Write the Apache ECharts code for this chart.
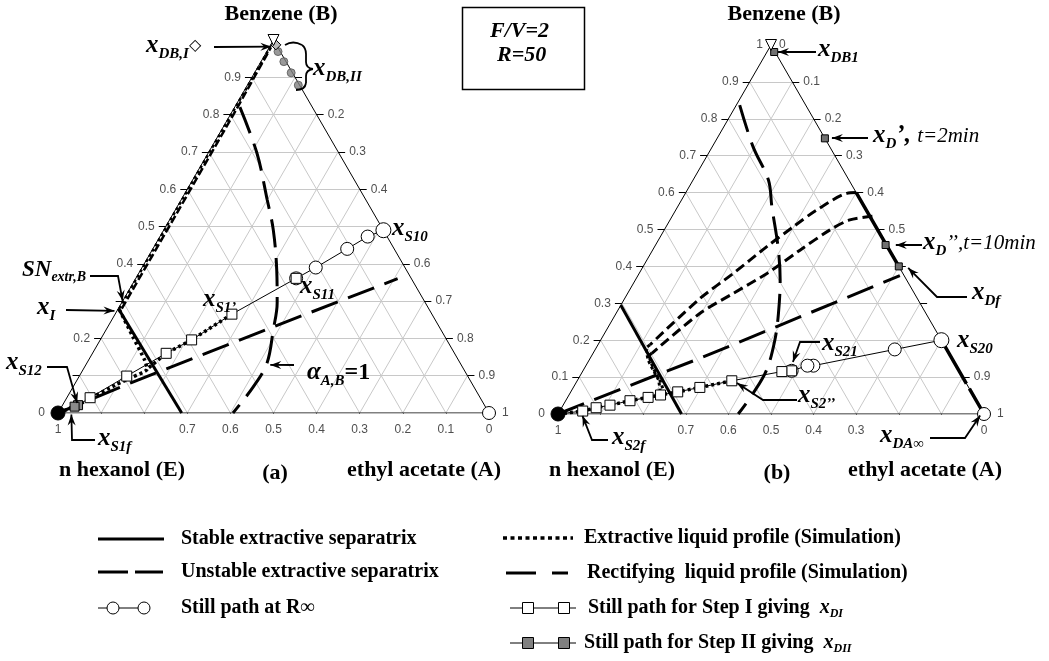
<!DOCTYPE html>
<html>
<head>
<meta charset="utf-8">
<script src="https://cdn.jsdelivr.net/npm/echarts@6/dist/echarts.min.js"></script>
<style>
  html, body { margin: 0; padding: 0; background: #fff; }
  #chart { width: 1049px; height: 661px; }
</style>
</head>
<body>
<div id="chart"></div>
<script>
// Ternary diagrams: compositions are [xA, xB] (ethyl acetate, benzene); xE = 1 - xA - xB.
const SERIF = "'Liberation Serif', 'Times New Roman', serif";
const SANS = "'Liberation Sans', Arial, sans-serif";
const S3 = Math.sqrt(3) / 2;
const T = p => [p[0] + p[1] / 2, p[1] * S3];

// ---- tick labels -------------------------------------------------------
const leftLabelsA  = ['0', '0.2', '0.4', '0.5', '0.6', '0.7', '0.8', '0.9'];
const rightLabelsA = ['0.2', '0.3', '0.4', '0.6', '0.7', '0.8', '0.9', '1'];
const baseLabelsA  = ['1', '0.7', '0.6', '0.5', '0.4', '0.3', '0.2', '0.1', '0'];
const leftLabelsB  = ['0', '0.1', '0.2', '0.3', '0.4', '0.5', '0.6', '0.7', '0.8', '0.9', '1'];
const rightLabelsB = ['0', '0.1', '0.2', '0.3', '0.4', '0.5', '0.9', '1'];
const baseLabelsB  = ['1', '0.7', '0.6', '0.5', '0.4', '0.3', '0'];

// ---- panel (a) ---------------------------------------------------------
const stableSepA   = [[0, 0.28], [0.287, 0]];
const unstableSepA = [[0, 0], [0.132, 0.083], [0.384, 0.231], [0.608, 0.36]];
const alphaAB_A    = [[0.012, 0.82], [0.113, 0.697], [0.2, 0.571], [0.254, 0.491], [0.316, 0.383],
                      [0.361, 0.295], [0.388, 0.223], [0.418, 0.134], [0.418, 0.07], [0.406, 0]];
const stillRinfA   = [[0.51, 0.49], [0.482, 0.473], [0.451, 0.44], [0.403, 0.39], [0.372, 0.361]];
const stepIA       = [[0.372, 0.361], [0.271, 0.265], [0.212, 0.196], [0.171, 0.16], [0.11, 0.099], [0.054, 0.041]];
const stepIIA      = [[0.036, 0.021], [0.03, 0.017]];
const extrA1       = [[0.271, 0.265], [0.212, 0.196], [0.171, 0.16], [0.148, 0.118]];
const extrA2       = [[0.004, 0.277], [0.07, 0.206], [0.13, 0.142], [0.148, 0.118], [0.126, 0.097],
                      [0.098, 0.077], [0.055, 0.039], [0.02, 0.012], [0, 0]];
const rectEdgeA    = [[0.008, 0.28], [0.008, 0.5], [0.007, 0.8], [0.004, 0.98]];
const extrEdgeA    = [[0.002, 0.28], [0.002, 0.98]];
const distIIA      = [[0.026, 0.969], [0.053, 0.942], [0.085, 0.912], [0.118, 0.879]];
const distIA       = [[0.012, 0.987]];

// ---- panel (b) ---------------------------------------------------------
const stableSepB   = [[0, 0.295], [0.29, 0]];
const unstableSepB = [[0, 0], [0.052, 0.031], [0.179, 0.106], [0.258, 0.151], [0.395, 0.237], [0.615, 0.375]];
const alphaAB_B    = [[0.008, 0.837], [0.096, 0.724], [0.177, 0.634], [0.221, 0.562], [0.29, 0.453], [0.34, 0.363],
                      [0.381, 0.273], [0.409, 0.2], [0.43, 0.119], [0.43, 0.056], [0.423, 0]];
const rect1B       = [[0.4, 0.6], [0.379, 0.598], [0.331, 0.553], [0.299, 0.508], [0.263, 0.453],
                      [0.221, 0.381], [0.177, 0.3135], [0.122, 0.187]];
const rect2B       = [[0.47, 0.536], [0.422, 0.526], [0.389, 0.499], [0.346, 0.444], [0.3, 0.381],
                      [0.248, 0.327], [0.197, 0.273], [0.138, 0.1645]];
const extr1B       = [[0.122, 0.187], [0.118, 0.178], [0.139, 0.146], [0.164, 0.119], [0.19, 0.092], [0.215, 0.0515]];
const extr2B       = [[0.138, 0.1645], [0.135, 0.158], [0.15, 0.138], [0.172, 0.113], [0.198, 0.086], [0.22, 0.058]];
const stillRinfB   = [[0.8, 0.2], [0.703, 0.175], [0.534, 0.131], [0.52, 0.131], [0.49, 0.117]];
const stepIB       = [[0.49, 0.117], [0.468, 0.115], [0.363, 0.09], [0.297, 0.072], [0.251, 0.06], [0.215, 0.0515],
                      [0.189, 0.045], [0.151, 0.036], [0.11, 0.024], [0.081, 0.017], [0.054, 0.008]];
const distB        = [[0.017, 0.981], [0.253, 0.747], [0.54, 0.458], [0.6, 0.4]];
const edgeSolidB   = [[0.4, 0.6], [0.54, 0.46], [0.6, 0.4]];
const edgeDashB    = [[0.8, 0.2], [1, 0]];

// ---- layout ------------------------------------------------------------
const panels = [
  { left: 58, top: 40, width: 431, height: 373 },
  { left: 558, top: 45, width: 426, height: 369 }
];

const LONG = [28, 11], SHORT = [10, 5], DOT = [3, 3];

function curve(k, pts, width, type, extra) {
  return Object.assign({
    type: 'line', xAxisIndex: k, yAxisIndex: k, data: pts.map(T), symbol: 'none',
    silent: true, lineStyle: { color: '#000', width: width, type: type || 'solid' }, z: 4
  }, extra || {});
}
function marks(k, pts, symbol, size, fill, extra) {
  return Object.assign({
    type: 'scatter', xAxisIndex: k, yAxisIndex: k, data: pts.map(T), symbol: symbol,
    symbolSize: size, silent: true,
    itemStyle: { color: fill, borderColor: '#000', borderWidth: 1, opacity: 1 }, z: 6
  }, extra || {});
}
function gridLines(k) {
  const segs = [];
  for (let i = 1; i <= 9; i++) {
    const v = i / 10;
    segs.push({ coords: [T([0, v]), T([1 - v, v])] });
    segs.push({ coords: [T([v, 0]), T([v, 1 - v])] });
    segs.push({ coords: [T([1 - v, 0]), T([0, 1 - v])] });
  }
  return { type: 'lines', coordinateSystem: 'cartesian2d', xAxisIndex: k, yAxisIndex: k, data: segs,
           silent: true, lineStyle: { color: '#c8c8c8', width: 1, opacity: 1 }, z: 1 };
}
function ticks(k) {
  const p = panels[k], dx = 7 / p.width, dy = 7 / p.height * S3, segs = [];
  for (let i = 1; i <= 9; i++) {
    const v = i / 10;
    const l = T([0, v]), r = T([1 - v, v]), b = T([v, 0]);
    segs.push({ coords: [l, [l[0] - dx, l[1]]] });
    segs.push({ coords: [r, [r[0] + dx, r[1]]] });
    segs.push({ coords: [b, [b[0], b[1] - dy]] });
  }
  return { type: 'lines', coordinateSystem: 'cartesian2d', xAxisIndex: k, yAxisIndex: k, data: segs,
           silent: true, lineStyle: { color: '#000', width: 1, opacity: 1 }, z: 2 };
}
function tickLabels(k, labels, side) {
  const data = labels.map(s => {
    const v = parseFloat(s);
    let pos, dist = 11;
    if (side === 'left') { pos = T([0, v]); if (v === 0) dist = 13; if (v === 1) dist = 8; }
    else if (side === 'right') { pos = T([v, 1 - v]); if (v === 1) dist = 13; if (v === 0) dist = 8; }
    else { pos = T([1 - v, 0]); }
    return { name: s, value: pos, label: { distance: dist } };
  });
  return {
    type: 'scatter', xAxisIndex: k, yAxisIndex: k, data: data, symbolSize: 0.1, silent: true,
    itemStyle: { color: 'rgba(0,0,0,0)' }, z: 5,
    label: { show: true, position: side, formatter: '{b}', color: '#222', fontFamily: SANS, fontSize: 12 }
  };
}
function frame(k) {
  return curve(k, [[0, 0], [1, 0], [0, 1], [0, 0]], 1, 'solid', { z: 3 });
}

const series = [];
[0, 1].forEach(k => {
  series.push(gridLines(k), ticks(k), frame(k));
  series.push(tickLabels(k, k ? leftLabelsB : leftLabelsA, 'left'));
  series.push(tickLabels(k, k ? rightLabelsB : rightLabelsA, 'right'));
  series.push(tickLabels(k, k ? baseLabelsB : baseLabelsA, 'bottom'));
});

// panel (a)
series.push(
  curve(0, stableSepA, 3),
  curve(0, unstableSepA, 3, LONG),
  curve(0, alphaAB_A, 3, LONG, { smooth: 0.35 }),
  curve(0, rectEdgeA, 2.5, [8, 3]),
  curve(0, extrEdgeA, 2.5, DOT),
  curve(0, extrA1, 3.5, DOT),
  curve(0, extrA2, 3.5, DOT, { smooth: 0.2 }),
  curve(0, stillRinfA.concat(stepIA, stepIIA, [[0, 0]]), 1, 'solid', { z: 5 }),
  marks(0, stillRinfA.slice(1), 'circle', 13, '#fff'),
  marks(0, stillRinfA.slice(0, 1), 'circle', 15, '#fff'),
  marks(0, stepIA, 'rect', 10, '#fff', { z: 7 }),
  marks(0, stepIIA, 'rect', 9, '#8a8a8a', { z: 7 }),
  marks(0, distIIA, 'circle', 8, '#808080', { itemStyle: { color: '#808080', borderColor: '#555', borderWidth: 1 } }),
  marks(0, distIA, 'diamond', 10, '#bbb', { z: 7 }),
  marks(0, [[0, 1]], 'triangle', 11, '#fff', { symbolRotate: 180, z: 8 }),
  marks(0, [[0, 0]], 'circle', 14, '#000', { z: 8 }),
  marks(0, [[1, 0]], 'circle', 13, '#fff', { z: 8 })
);

// panel (b)
series.push(
  curve(1, stableSepB, 3),
  curve(1, unstableSepB, 3, LONG),
  curve(1, alphaAB_B, 3, LONG, { smooth: 0.35 }),
  curve(1, rect1B, 3, SHORT, { smooth: 0.3 }),
  curve(1, rect2B, 3, SHORT, { smooth: 0.3 }),
  curve(1, extr1B, 3, DOT, { smooth: 0.2 }),
  curve(1, extr2B, 3, DOT, { smooth: 0.2 }),
  curve(1, [[0, 0]].concat(stepIB.slice(2).reverse()), 3.5, DOT),
  curve(1, edgeSolidB, 3.5),
  curve(1, edgeDashB, 3.5, [50, 6]),
  curve(1, stillRinfB.concat(stepIB, [[0, 0]]), 1, 'solid', { z: 5 }),
  marks(1, stillRinfB.slice(1), 'circle', 13, '#fff'),
  marks(1, stillRinfB.slice(0, 1), 'circle', 15, '#fff'),
  marks(1, stepIB, 'rect', 10, '#fff', { z: 7 }),
  marks(1, distB, 'rect', 7, '#707070', { z: 7 }),
  marks(1, [[0, 1]], 'triangle', 11, '#fff', { symbolRotate: 180, z: 8 }),
  marks(1, [[0, 0]], 'circle', 14, '#000', { z: 8 }),
  marks(1, [[1, 0]], 'circle', 13, '#fff', { z: 8 })
);

const chart = echarts.init(document.getElementById('chart'), null, { renderer: 'canvas' });
chart.setOption({
  animation: false,
  backgroundColor: '#fff',
  grid: panels.map(p => Object.assign({ outerBoundsMode: 'none', containLabel: false }, p)),
  xAxis: [0, 1].map(k => ({ type: 'value', gridIndex: k, min: 0, max: 1, show: false })),
  yAxis: [0, 1].map(k => ({ type: 'value', gridIndex: k, min: 0, max: S3, show: false })),
  series: series
});

// ---- annotations -------------------------------------------------------
const px = (k, p) => chart.convertToPixel({ gridIndex: k }, T(p));
const ctx = document.createElement('canvas').getContext('2d');
const STY = {
  x:   { fontStyle: 'italic', fontWeight: 'bold', fontSize: 25, dy: 0 },
  sub: { fontStyle: 'italic', fontWeight: 'bold', fontSize: 15, dy: 8 },
  sn:  { fontStyle: 'italic', fontWeight: 'bold', fontSize: 23, dy: 0 },
  snb: { fontStyle: 'italic', fontWeight: 'bold', fontSize: 14, dy: 7 },
  box: { fontStyle: 'italic', fontWeight: 'bold', fontSize: 22, dy: 0 },
  it:  { fontStyle: 'italic', fontWeight: 'normal', fontSize: 21, dy: 0 },
  bd:  { fontStyle: 'normal', fontWeight: 'bold', fontSize: 24, dy: 0 },
  sym: { fontStyle: 'normal', fontWeight: 'normal', fontSize: 16, dy: 0 },
  lg:  { fontStyle: 'normal', fontWeight: 'bold', fontSize: 20, dy: 0 },
  lgx: { fontStyle: 'italic', fontWeight: 'bold', fontSize: 20, dy: 0 },
  lgs: { fontStyle: 'italic', fontWeight: 'bold', fontSize: 12, dy: 6 }
};
function textRun(x, y, parts) {
  const els = [];
  let cx = x;
  parts.forEach(([t, key]) => {
    const s = STY[key];
    const fam = key === 'sym' ? "'DejaVu Sans', sans-serif" : SERIF;
    ctx.font = `${s.fontStyle} ${s.fontWeight} ${s.fontSize}px ${fam}`;
    els.push({ type: 'text', x: cx, y: y + s.dy, z: 100,
      style: { text: t, fill: '#000', fontFamily: fam, fontSize: s.fontSize, fontWeight: s.fontWeight,
               fontStyle: s.fontStyle, align: 'left', verticalAlign: 'middle' } });
    cx += ctx.measureText(t).width;
  });
  return els;
}
function centered(x, y, text, size) {
  return { type: 'text', x: x, y: y, z: 100,
    style: { text: text, fill: '#000', fontFamily: SERIF, fontSize: size, fontWeight: 'bold',
             align: 'center', verticalAlign: 'middle' } };
}
function arrow(pts) {
  const els = [{ type: 'polyline', z: 90, shape: { points: pts }, style: { stroke: '#000', lineWidth: 1.8, fill: null } }];
  const [x1, y1] = pts[pts.length - 2], [x2, y2] = pts[pts.length - 1];
  const a = Math.atan2(y2 - y1, x2 - x1), c = Math.cos(a), s = Math.sin(a);
  const L = 11, W = 4;
  els.push({ type: 'polygon', z: 91, shape: { points: [
    [x2, y2], [x2 - L * c - W * s, y2 - L * s + W * c], [x2 - 0.65 * L * c, y2 - 0.65 * L * s],
    [x2 - L * c + W * s, y2 - L * s - W * c]] }, style: { fill: '#000' } });
  return els;
}
function withTip(k, tip, tail) { return arrow(tail.concat([px(k, tip)])); }
function quad(x1, y1, cx, cy, x2, y2) {
  return { type: 'bezierCurve', z: 90, shape: { x1, y1, x2, y2, cpx1: cx, cpy1: cy },
           style: { stroke: '#000', lineWidth: 1.8, fill: null } };
}
function seg(x1, y1, x2, y2, w, dash) {
  return { type: 'line', z: 90, shape: { x1, y1, x2, y2 }, style: { stroke: '#000', lineWidth: w, lineDash: dash || null } };
}

const g = [];
// titles
g.push(centered(281, 14, 'Benzene (B)', 22), centered(784, 14, 'Benzene (B)', 22));
g.push(centered(122, 470, 'n hexanol (E)', 22), centered(275, 473, '(a)', 22), centered(424, 470, 'ethyl acetate (A)', 22));
g.push(centered(612, 470, 'n hexanol (E)', 22), centered(777, 473, '(b)', 22), centered(925, 470, 'ethyl acetate (A)', 22));
// parameter box
g.push({ type: 'rect', z: 80, shape: { x: 462.5, y: 7.5, width: 122, height: 82 },
         style: { fill: '#fff', stroke: '#000', lineWidth: 1.5 } });
g.push(...textRun(490, 31, [['F/V=2', 'box']]), ...textRun(497, 55, [['R=50', 'box']]));

// panel (a) annotations
g.push(...textRun(146, 46, [['x', 'x'], ['DB,I', 'sub'], ['\u25C7', 'sym']]));
g.push(...withTip(0, [0.004, 0.982], [[214, 47]]));
// curly brace grouping the step II distillates
g.push(quad(285, 45, 293, 40, 302, 45), quad(302, 45, 306, 48, 306, 54), seg(306, 54, 306, 62, 1.8),
       quad(306, 62, 306, 68, 313, 69), quad(313, 69, 306, 70, 306, 76), seg(306, 76, 306, 83, 1.8),
       quad(306, 83, 305, 90, 296, 90));
g.push(...textRun(313, 69, [['x', 'x'], ['DB,II', 'sub']]));
g.push(...textRun(392, 229, [['x', 'x'], ['S10', 'sub']]));
g.push(...textRun(300, 287, [['x', 'x'], ['S11', 'sub']]));
g.push(...textRun(203, 300, [['x', 'x'], ['S1\u2019', 'sub']]));
g.push(...textRun(22, 270, [['SN', 'sn'], ['extr,B', 'snb']]));
g.push(...withTip(0, [0.0, 0.30], [[90, 276], [118, 276]]));
g.push(...textRun(37, 308, [['x', 'x'], ['I', 'sub']]));
g.push(...withTip(0, [-0.006, 0.274], [[66, 310]]));
g.push(...textRun(6, 363, [['x', 'x'], ['S12', 'sub']]));
g.push(...withTip(0, [0.031, 0.027], [[47, 367], [67, 367]]));
g.push(...textRun(98, 439, [['x', 'x'], ['S1f', 'sub']]));
g.push(...withTip(0, [0.033, -0.004], [[95, 440], [72, 440]]));
g.push(...textRun(307, 373, [['\u03B1', 'x'], ['A,B', 'sub'], ['=1', 'bd']]));
g.push(...withTip(0, [0.428, 0.129], [[294, 365]]));

// panel (b) annotations
g.push(...textRun(818, 50, [['x', 'x'], ['DB1', 'sub']]));
g.push(...withTip(1, [0.026, 0.981], [[816, 52]]));
g.push(...textRun(873, 136, [['x', 'x'], ['D', 'sub'], ['\u2019, ', 'x'], ['t=2min', 'it']]));
g.push(...withTip(1, [0.269, 0.748], [[868, 138]]));
g.push(...textRun(923, 243, [['x', 'x'], ['D', 'sub'], ['\u2019\u2019,t=10min', 'it']]));
g.push(...withTip(1, [0.564, 0.458], [[922, 245]]));
g.push(...textRun(972, 293, [['x', 'x'], ['Df', 'sub']]));
g.push(...withTip(1, [0.624, 0.396], [[967, 297], [937, 297]]));
g.push(...textRun(957, 341, [['x', 'x'], ['S20', 'sub']]));
g.push(...textRun(822, 344, [['x', 'x'], ['S21', 'sub']]));
g.push(...withTip(1, [0.481, 0.141], [[820, 342], [800, 342]]));
g.push(...textRun(798, 396, [['x', 'x'], ['S2\u2019\u2019', 'sub']]));
g.push(...withTip(1, [0.378, 0.084], [[797, 400], [763, 400]]));
g.push(...textRun(612, 438, [['x', 'x'], ['S2f', 'sub']]));
g.push(...withTip(1, [0.06, -0.005], [[608, 440], [592, 440]]));
g.push(...textRun(880, 436, [['x', 'x'], ['DA\u221E', 'sub']]));
g.push(...withTip(1, [0.993, -0.004], [[930, 438], [965, 438]]));

// legend
function mk(type, x, y, r, fill) {
  return type === 'circle'
    ? { type: 'circle', z: 92, shape: { cx: x, cy: y, r: r }, style: { fill: fill, stroke: '#000', lineWidth: 1 } }
    : { type: 'rect', z: 92, shape: { x: x - r, y: y - r, width: 2 * r, height: 2 * r }, style: { fill: fill, stroke: '#000', lineWidth: 1 } };
}
g.push(seg(98, 539, 164, 539, 3));
g.push(seg(98, 572, 128, 572, 3), seg(135, 572, 163, 572, 3));
g.push(seg(98, 608, 150, 608, 1), mk('circle', 113, 608, 6, '#fff'), mk('circle', 144, 608, 6, '#fff'));
g.push(...textRun(181, 539, [['Stable extractive separatrix', 'lg']]));
g.push(...textRun(181, 572, [['Unstable extractive separatrix', 'lg']]));
g.push(...textRun(181, 608, [['Still path at R\u221E', 'lg']]));
g.push(seg(503, 538, 573, 538, 3.5, [4, 3.5]));
g.push(seg(506, 573, 536, 573, 3), seg(552, 573, 568, 573, 3));
g.push(seg(510, 608, 576, 608, 1), mk('rect', 528, 608, 5.5, '#fff'), mk('rect', 564, 608, 5.5, '#fff'));
g.push(seg(510, 643, 576, 643, 1), mk('rect', 528, 643, 5.5, '#808080'), mk('rect', 564, 643, 5.5, '#808080'));
g.push(...textRun(584, 538, [['Extractive liquid profile (Simulation)', 'lg']]));
g.push(...textRun(587, 573, [['Rectifying  liquid profile (Simulation)', 'lg']]));
g.push(...textRun(588, 608, [['Still path for Step I giving  ', 'lg'], ['x', 'lgx'], ['DI', 'lgs']]));
g.push(...textRun(584, 643, [['Still path for Step II giving  ', 'lg'], ['x', 'lgx'], ['DII', 'lgs']]));

chart.setOption({ graphic: { elements: g } });
</script>
</body>
</html>
